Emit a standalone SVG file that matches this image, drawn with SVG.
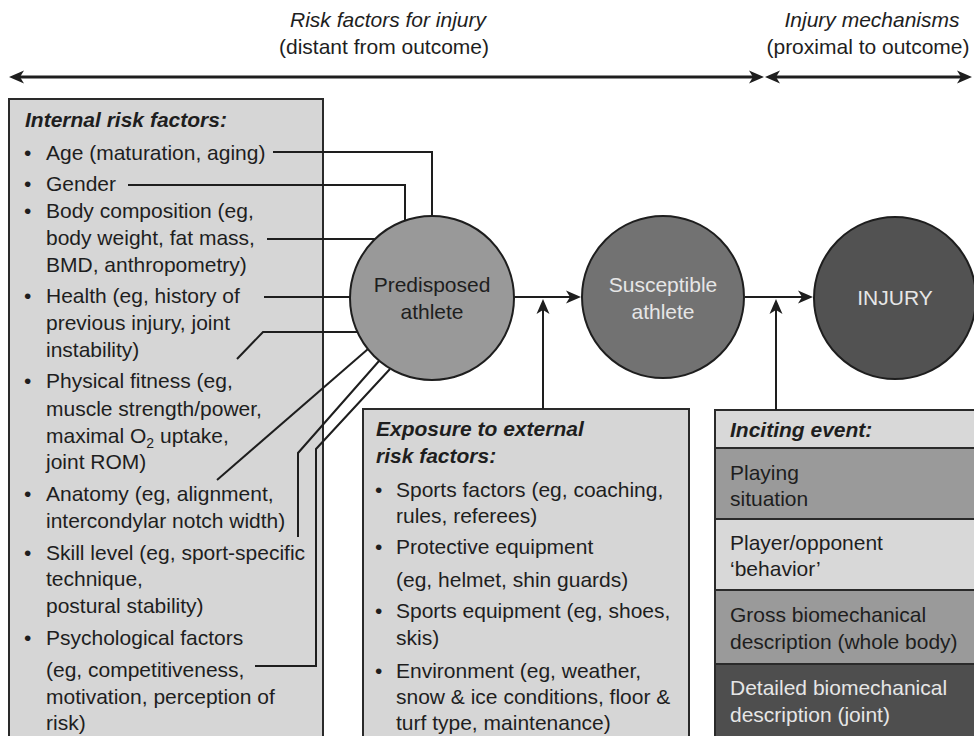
<svg xmlns="http://www.w3.org/2000/svg" width="974" height="736" viewBox="0 0 974 736">
<style>
text{font-family:"Liberation Sans",Arial,Helvetica,sans-serif;font-size:21px;fill:#1e1e1e}
.h{font-weight:bold;font-style:italic}
.it{font-style:italic}
.lt{fill:#e6e6e6}
.box{stroke:#2a2a2a;stroke-width:2}
.c{stroke:#1e1e1e;stroke-width:2;fill:none}
.arr{stroke:#1e1e1e;stroke-width:2;fill:none;marker-end:url(#ah)}
.top{stroke:#1e1e1e;stroke-width:3;fill:none;marker-end:url(#ahb);marker-start:url(#ahb)}
</style>
<defs>
<marker id="ah" markerUnits="userSpaceOnUse" viewBox="-6 -8 18 16" refX="0" refY="0" markerWidth="18" markerHeight="16" orient="auto">
<path d="M10,0 L-5,-6.5 L-1,0 L-5,6.5 Z" fill="#1e1e1e"/>
</marker>
<marker id="ahb" markerUnits="userSpaceOnUse" viewBox="-6 -8 18 16" refX="0" refY="0" markerWidth="18" markerHeight="16" orient="auto-start-reverse">
<path d="M10,0 L-5,-6.5 L-1,0 L-5,6.5 Z" fill="#1e1e1e"/>
</marker>
</defs>
<rect width="974" height="736" fill="#ffffff"/>

<g id="titles">
<text class="it" x="388" y="27" text-anchor="middle">Risk factors for injury</text>
<text x="384" y="54" text-anchor="middle">(distant from outcome)</text>
<text class="it" x="872" y="27" text-anchor="middle">Injury mechanisms</text>
<text x="868" y="54" text-anchor="middle">(proximal to outcome)</text>
</g>

<g id="internal">
<rect class="box" x="9" y="99" width="314" height="645" fill="#d6d6d6"/>
<text class="h" x="25" y="127">Internal risk factors:</text>
<text x="24" y="160">•</text><text x="46" y="160">Age (maturation, aging)</text>
<text x="24" y="191">•</text><text x="46" y="191">Gender</text>
<text x="24" y="218">•</text><text x="46" y="218">Body composition (eg,</text>
<text x="46" y="245">body weight, fat mass,</text>
<text x="46" y="272">BMD, anthropometry)</text>
<text x="24" y="303">•</text><text x="46" y="303">Health (eg, history of</text>
<text x="46" y="330">previous injury, joint</text>
<text x="46" y="357">instability)</text>
<text x="24" y="388">•</text><text x="46" y="388">Physical fitness (eg,</text>
<text x="46" y="416">muscle strength/power,</text>
<text x="46" y="443">maximal O<tspan font-size="14" dy="5">2</tspan><tspan dy="-5"> uptake,</tspan></text>
<text x="46" y="469">joint ROM)</text>
<text x="24" y="501">•</text><text x="46" y="501">Anatomy (eg, alignment,</text>
<text x="46" y="528">intercondylar notch width)</text>
<text x="24" y="560">•</text><text x="46" y="560">Skill level (eg, sport-specific</text>
<text x="46" y="586">technique,</text>
<text x="46" y="613">postural stability)</text>
<text x="24" y="645">•</text><text x="46" y="645">Psychological factors</text>
<text x="46" y="677">(eg, competitiveness,</text>
<text x="46" y="704">motivation, perception of</text>
<text x="46" y="730">risk)</text>
</g>

<g id="external">
<rect class="box" x="363" y="409" width="326" height="335" fill="#d6d6d6"/>
<text class="h" x="376" y="436">Exposure to external</text>
<text class="h" x="376" y="463">risk factors:</text>
<text x="375" y="497">•</text><text x="396" y="497">Sports factors (eg, coaching,</text>
<text x="396" y="523">rules, referees)</text>
<text x="375" y="554">•</text><text x="396" y="554">Protective equipment</text>
<text x="396" y="587">(eg, helmet, shin guards)</text>
<text x="375" y="618">•</text><text x="396" y="618">Sports equipment (eg, shoes,</text>
<text x="396" y="645">skis)</text>
<text x="375" y="678">•</text><text x="396" y="678">Environment (eg, weather,</text>
<text x="396" y="704">snow &amp; ice conditions, floor &amp;</text>
<text x="396" y="730">turf type, maintenance)</text>
</g>

<g id="inciting">
<rect class="box" x="715" y="410" width="265" height="38" fill="#d8d8d8"/>
<rect class="box" x="715" y="448" width="265" height="71" fill="#9a9a9a"/>
<rect class="box" x="715" y="519" width="265" height="71" fill="#d8d8d8"/>
<rect class="box" x="715" y="590" width="265" height="74" fill="#9a9a9a"/>
<rect class="box" x="715" y="664" width="265" height="80" fill="#4e4e4e"/>
<text class="h" x="730" y="437">Inciting event:</text>
<text x="730" y="480">Playing</text>
<text x="730" y="506">situation</text>
<text x="730" y="550">Player/opponent</text>
<text x="730" y="576">‘behavior’</text>
<text x="730" y="622">Gross biomechanical</text>
<text x="730" y="649">description (whole body)</text>
<text class="lt" x="730" y="695">Detailed biomechanical</text>
<text class="lt" x="730" y="722">description (joint)</text>
</g>

<g id="connectors">
<line class="top" x1="19" y1="77" x2="754" y2="77"/>
<line class="top" x1="775" y1="77" x2="962" y2="77"/>
<polyline class="c" points="273,152 432,152 432,216"/>
<polyline class="c" points="128,185 405,185 405,221"/>
<polyline class="c" points="267,239 375,239"/>
<polyline class="c" points="264,297 350,297"/>
<polyline class="c" points="237,359 263,332 357,332"/>
<polyline class="c" points="217,480 368,349"/>
<polyline class="c" points="298,537 298,453 379,361"/>
<polyline class="c" points="255,666 316,666 316,449 390,369"/>
<line class="arr" x1="514" y1="297" x2="571" y2="297"/>
<line class="arr" x1="543" y1="409" x2="543" y2="309"/>
<line class="arr" x1="745" y1="297" x2="803" y2="297"/>
<line class="arr" x1="776" y1="410" x2="776" y2="309"/>
</g>

<g id="predisposed">
<circle cx="432" cy="298" r="82" fill="#999999" stroke="#1e1e1e" stroke-width="2"/>
<text x="432" y="292" text-anchor="middle">Predisposed</text>
<text x="432" y="319" text-anchor="middle">athlete</text>
</g>
<g id="susceptible">
<circle cx="663" cy="297" r="81" fill="#727272" stroke="#1e1e1e" stroke-width="2"/>
<text class="lt" x="663" y="292" text-anchor="middle">Susceptible</text>
<text class="lt" x="663" y="319" text-anchor="middle">athlete</text>
</g>
<g id="injury">
<circle cx="895" cy="298" r="81" fill="#525252" stroke="#1e1e1e" stroke-width="2"/>
<text class="lt" x="895" y="305" text-anchor="middle">INJURY</text>
</g>
</svg>
